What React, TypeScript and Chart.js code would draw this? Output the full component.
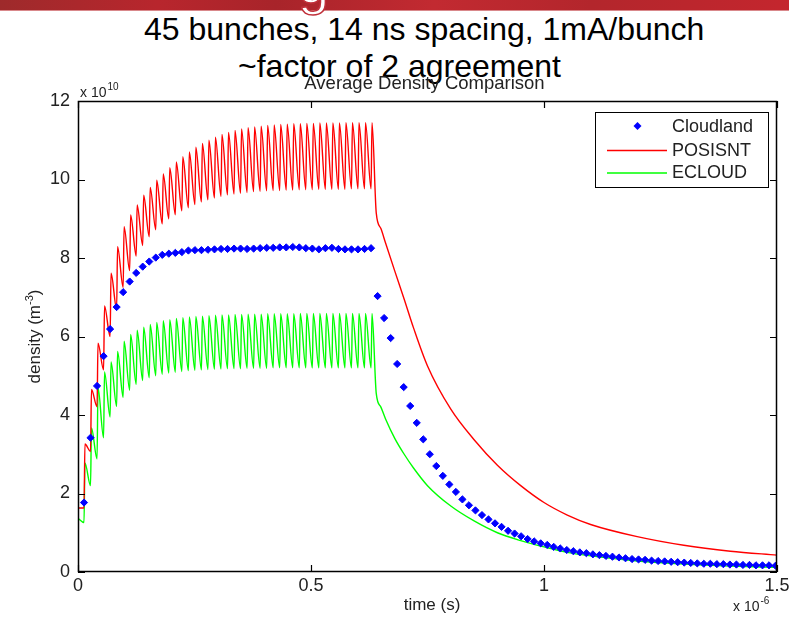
import React, { useEffect, useRef } from "react";
import { Chart, registerables } from "chart.js";

Chart.register(...registerables);

const FONT = '"Liberation Sans", Arial, Helvetica, sans-serif';

// ---- axes ----
const X_TICKS = [0, 0.5, 1, 1.5];
const Y_TICKS = [0, 2, 4, 6, 8, 10, 12];

// ---- timing (microseconds) ----
const FIRST_BUNCH = 0.0129;
const BUNCH_SPACING = 0.014;
const RISE = 0.002;

// ---- Cloudland (blue markers), one value per 14 ns ----
const CLOUDLAND = [
  1.77, 3.42, 4.74, 5.5, 6.19, 6.75, 7.13, 7.4, 7.62, 7.78,
  7.91, 8.01, 8.08, 8.11, 8.13, 8.15, 8.19, 8.2, 8.2, 8.21,
  8.22, 8.23, 8.23, 8.24, 8.24, 8.23, 8.24, 8.25, 8.26, 8.26,
  8.27, 8.27, 8.28, 8.27, 8.25, 8.24, 8.22, 8.25, 8.26, 8.23,
  8.22, 8.22, 8.22, 8.23, 8.25,
  7.03, 6.47, 5.96, 5.3, 4.71, 4.23, 3.8, 3.38, 3.0, 2.7,
  2.45, 2.23, 2.04, 1.85, 1.7, 1.57, 1.45, 1.34, 1.24, 1.15,
  1.05, 0.98, 0.91, 0.84, 0.78, 0.73, 0.69, 0.64, 0.6, 0.56,
  0.53, 0.5, 0.48, 0.45, 0.43, 0.41, 0.39, 0.37, 0.35, 0.33,
  0.32, 0.31, 0.29, 0.28, 0.27, 0.26, 0.25, 0.24, 0.23, 0.22,
  0.21, 0.21, 0.2, 0.2, 0.19, 0.19, 0.18, 0.18, 0.17, 0.17,
  0.17, 0.16,
];

// ---- POSISNT (red) ----
const RED_START = 1.63;
const RED_TROUGHS = [
  1.63, 3.07, 4.21, 5.15, 6.0, 6.7, 7.25, 7.68, 8.05, 8.32,
  8.54, 8.72, 8.87, 9.0, 9.1, 9.2, 9.28, 9.36, 9.43, 9.48,
  9.53, 9.57, 9.61, 9.63, 9.65, 9.67, 9.69, 9.7, 9.71, 9.72,
  9.72, 9.73, 9.73, 9.74, 9.74, 9.74, 9.75, 9.75, 9.75, 9.75,
  9.75, 9.76, 9.76, 9.76, 9.76,
];
const RED_PEAKS = [
  3.26, 4.65, 5.83, 6.78, 7.61, 8.29, 8.8, 9.1, 9.35, 9.6,
  9.8, 9.98, 10.14, 10.3, 10.45, 10.58, 10.7, 10.82, 10.92, 11.0,
  11.08, 11.15, 11.2, 11.25, 11.29, 11.32, 11.34, 11.36, 11.38, 11.39,
  11.4, 11.41, 11.42, 11.42, 11.43, 11.43, 11.44, 11.44, 11.44, 11.44,
  11.45, 11.45, 11.45, 11.45, 11.45,
];

// ---- ECLOUD (green) ----
const GREEN_START = 1.37;
const GREEN_TROUGHS = [
  1.26, 2.2, 2.88, 3.42, 3.95, 4.22, 4.45, 4.63, 4.78, 4.88,
  4.95, 5.0, 5.04, 5.07, 5.09, 5.11, 5.13, 5.14, 5.15, 5.16,
  5.17, 5.17, 5.18, 5.18, 5.18, 5.19, 5.19, 5.19, 5.19, 5.2,
  5.2, 5.2, 5.2, 5.2, 5.2, 5.2, 5.2, 5.2, 5.2, 5.2,
  5.2, 5.2, 5.2, 5.2, 5.2,
];
const GREEN_PEAKS = [
  2.78, 3.67, 4.7, 5.1, 5.35, 5.62, 5.88, 6.05, 6.16, 6.24,
  6.31, 6.36, 6.4, 6.43, 6.46, 6.48, 6.5, 6.51, 6.52, 6.53,
  6.54, 6.55, 6.55, 6.56, 6.56, 6.57, 6.57, 6.57, 6.58, 6.58,
  6.58, 6.58, 6.58, 6.59, 6.59, 6.59, 6.59, 6.59, 6.59, 6.59,
  6.59, 6.59, 6.59, 6.59, 6.59,
];

// ---- decay after the train ----
const TAIL_TIMES = [0.64, 0.65, 0.66, 0.68, 0.7, 0.72, 0.75, 0.8, 0.85, 0.9, 0.95, 1.0, 1.05, 1.1, 1.2, 1.3, 1.4, 1.5];
const RED_TAIL = [9.15, 8.75, 8.38, 7.66, 6.95, 6.22, 5.25, 4.15, 3.37, 2.72, 2.2, 1.77, 1.45, 1.21, 0.9, 0.68, 0.53, 0.43];
const GREEN_TAIL = [4.55, 4.2, 3.9, 3.4, 3.0, 2.65, 2.2, 1.68, 1.3, 1.0, 0.8, 0.64, 0.5, 0.41, 0.28, 0.2, 0.15, 0.12];

const SERIES_NAMES = ["Cloudland", "POSISNT", "ECLOUD"];
const COLORS = ["#0000ff", "#ff0000", "#00ff00"];

function buildTrain(start: number, troughs: number[], peaks: number[], tailT: number[], tailV: number[]) {
  const pts: { x: number; y: number }[] = [{ x: 0, y: start }];
  for (let k = 0; k < peaks.length; k++) {
    const t = FIRST_BUNCH + k * BUNCH_SPACING;
    pts.push({ x: t, y: troughs[k] });
    pts.push({ x: t + RISE, y: peaks[k] });
  }
  tailT.forEach((t, i) => pts.push({ x: t, y: tailV[i] }));
  return pts;
}

const matlabPlugin = {
  id: "matlabLook",
  afterDraw(chart: any) {
    const { ctx, chartArea } = chart;
    const { left, right, top, bottom } = chartArea;
    const xs = chart.scales.x;
    const ys = chart.scales.y;
    ctx.save();
    // frame
    ctx.strokeStyle = "#000";
    ctx.lineWidth = 1.5;
    ctx.strokeRect(left + 0.5, top + 0.5, right - left - 1, bottom - top - 1);
    // inward ticks
    ctx.lineWidth = 1.2;
    const TL = 7;
    ctx.beginPath();
    X_TICKS.forEach((v) => {
      const px = Math.round(xs.getPixelForValue(v)) + 0.5;
      ctx.moveTo(px, bottom);
      ctx.lineTo(px, bottom - TL);
      ctx.moveTo(px, top);
      ctx.lineTo(px, top + TL);
    });
    Y_TICKS.forEach((v) => {
      const py = Math.round(ys.getPixelForValue(v)) + 0.5;
      ctx.moveTo(left, py);
      ctx.lineTo(left + TL, py);
      ctx.moveTo(right, py);
      ctx.lineTo(right - TL, py);
    });
    ctx.stroke();

    ctx.fillStyle = "#222";
    ctx.textBaseline = "alphabetic";
    // title
    ctx.font = `18.5px ${FONT}`;
    ctx.textAlign = "center";
    ctx.fillText("Average Density Comparison", (left + right) / 2 - 3, 89);

    // exponent labels
    ctx.textAlign = "left";
    ctx.font = `14px ${FONT}`;
    ctx.fillText("x 10", left + 2, 97);
    let w = ctx.measureText("x 10").width;
    ctx.font = `10px ${FONT}`;
    ctx.fillText("10", left + 3 + w, 90);

    ctx.font = `14px ${FONT}`;
    ctx.fillText("x 10", right - 44, 611);
    w = ctx.measureText("x 10").width;
    ctx.font = `10px ${FONT}`;
    ctx.fillText("-6", right - 43 + w, 604);

    // x label
    ctx.font = `17px ${FONT}`;
    ctx.textAlign = "center";
    ctx.fillText("time (s)", 432, 610);

    // y label (rotated)
    ctx.save();
    ctx.translate(35, (top + bottom) / 2);
    ctx.rotate(-Math.PI / 2);
    ctx.textAlign = "left";
    ctx.font = `17px ${FONT}`;
    const p1 = "density (m";
    const w1 = ctx.measureText(p1).width;
    ctx.font = `11px ${FONT}`;
    const w2 = ctx.measureText("-3").width;
    ctx.font = `17px ${FONT}`;
    const w3 = ctx.measureText(")").width;
    const x0 = -(w1 + w2 + w3) / 2;
    ctx.fillText(p1, x0, 5);
    ctx.font = `11px ${FONT}`;
    ctx.fillText("-3", x0 + w1, -2);
    ctx.font = `17px ${FONT}`;
    ctx.fillText(")", x0 + w1 + w2, 5);
    ctx.restore();

    // legend
    const bx = 595.5, by = 112.5, bw = 173, bh = 75;
    ctx.fillStyle = "#fff";
    ctx.fillRect(bx, by, bw, bh);
    ctx.strokeStyle = "#000";
    ctx.lineWidth = 1;
    ctx.strokeRect(bx, by, bw, bh);
    const rows = [126, 150, 172.5];
    ctx.font = `18px ${FONT}`;
    ctx.textAlign = "left";
    ctx.textBaseline = "middle";
    chart.data.datasets.forEach((ds: any, i: number) => {
      const ry = rows[i];
      if (i === 0) {
        ctx.fillStyle = ds.backgroundColor;
        ctx.beginPath();
        ctx.moveTo(637.5, ry - 4);
        ctx.lineTo(641.5, ry);
        ctx.lineTo(637.5, ry + 4);
        ctx.lineTo(633.5, ry);
        ctx.closePath();
        ctx.fill();
      } else {
        ctx.strokeStyle = ds.borderColor;
        ctx.lineWidth = 1.3;
        ctx.beginPath();
        ctx.moveTo(607, ry + 0.5);
        ctx.lineTo(667, ry + 0.5);
        ctx.stroke();
      }
      ctx.fillStyle = "#222";
      ctx.fillText(ds.label, 672, ry + 1);
    });
    ctx.restore();
  },
};

export default function App() {
  const ref = useRef<HTMLCanvasElement | null>(null);

  useEffect(() => {
    const canvas = ref.current;
    if (!canvas) return;
    const cloud = CLOUDLAND.map((v, i) => ({ x: FIRST_BUNCH + i * BUNCH_SPACING, y: v }));
    const red = buildTrain(RED_START, RED_TROUGHS, RED_PEAKS, TAIL_TIMES, RED_TAIL);
    const green = buildTrain(GREEN_START, GREEN_TROUGHS, GREEN_PEAKS, TAIL_TIMES, GREEN_TAIL);

    const chart = new Chart(canvas, {
      type: "line",
      data: {
        datasets: [
          {
            label: SERIES_NAMES[0],
            data: cloud,
            showLine: false,
            pointStyle: "rectRot",
            pointRadius: 3.6,
            pointBorderWidth: 1,
            backgroundColor: COLORS[0],
            borderColor: COLORS[0],
          },
          {
            label: SERIES_NAMES[1],
            data: red,
            borderColor: COLORS[1],
            backgroundColor: COLORS[1],
            borderWidth: 1.4,
            pointRadius: 0,
            fill: false,
            cubicInterpolationMode: "monotone",
          },
          {
            label: SERIES_NAMES[2],
            data: green,
            borderColor: COLORS[2],
            backgroundColor: COLORS[2],
            borderWidth: 1.4,
            pointRadius: 0,
            fill: false,
            cubicInterpolationMode: "monotone",
          },
        ],
      } as any,
      options: {
        responsive: false,
        animation: false,
        devicePixelRatio: 1,
        layout: { padding: { top: 101, right: 12, bottom: 0, left: 0 } },
        plugins: {
          legend: { display: false },
          title: { display: false },
          tooltip: { enabled: false },
        },
        scales: {
          x: {
            type: "linear",
            min: 0,
            max: 1.5,
            grid: { display: false, drawTicks: false },
            border: { display: false },
            ticks: {
              font: { family: FONT, size: 18 },
              color: "#222",
              padding: 3,
              maxRotation: 0,
              autoSkip: false,
              callback: (v: any) => String(v),
            },
            afterBuildTicks: (s: any) => {
              s.ticks = X_TICKS.map((v) => ({ value: v }));
            },
            afterFit: (s: any) => {
              s.height = 51;
              s.paddingLeft = 0;
              s.paddingRight = 0;
            },
          },
          y: {
            type: "linear",
            min: 0,
            max: 12,
            grid: { display: false, drawTicks: false },
            border: { display: false },
            ticks: {
              font: { family: FONT, size: 18 },
              color: "#222",
              padding: 8,
              callback: (v: any) => String(v),
            },
            afterBuildTicks: (s: any) => {
              s.ticks = Y_TICKS.map((v) => ({ value: v }));
            },
            afterFit: (s: any) => {
              s.width = 78;
              s.paddingTop = 0;
              s.paddingBottom = 0;
            },
          },
        },
      } as any,
      plugins: [matlabPlugin],
    });
    return () => chart.destroy();
  }, []);

  return (
    <div
      style={{
        position: "fixed",
        left: 0,
        top: 0,
        width: 789,
        height: 623,
        background: "#fff",
        overflow: "hidden",
      }}
    >
      <div
        style={{
          position: "absolute",
          left: 0,
          top: 0,
          width: 789,
          height: 10,
          background:
            "linear-gradient(to right, #9e2a2b 0%, #b8262d 20%, #a8242a 35%, #c22a31 55%, #b3262c 75%, #c4262e 100%)",
          borderBottom: "1px solid #d9888b",
        }}
      />
      <div
        style={{
          position: "absolute",
          left: 298,
          top: -44,
          font: `56px ${FONT}`,
          lineHeight: "56px",
          color: "#fff",
          WebkitTextStroke: "1.5px #c0303a",
        }}
      >
        g
      </div>
      <div
        style={{
          position: "absolute",
          left: 144,
          top: 13,
          font: `32px ${FONT}`,
          lineHeight: "32px",
          whiteSpace: "nowrap",
          color: "#000",
        }}
      >
        45 bunches, 14 ns spacing, 1mA/bunch
      </div>
      <div
        style={{
          position: "absolute",
          left: 238,
          top: 50,
          font: `32px ${FONT}`,
          lineHeight: "32px",
          whiteSpace: "nowrap",
          color: "#000",
        }}
      >
        ~factor of 2 agreement
      </div>
      <canvas
        ref={ref}
        width={789}
        height={623}
        style={{ position: "absolute", left: 0, top: 0, width: 789, height: 623 }}
      />
    </div>
  );
}
